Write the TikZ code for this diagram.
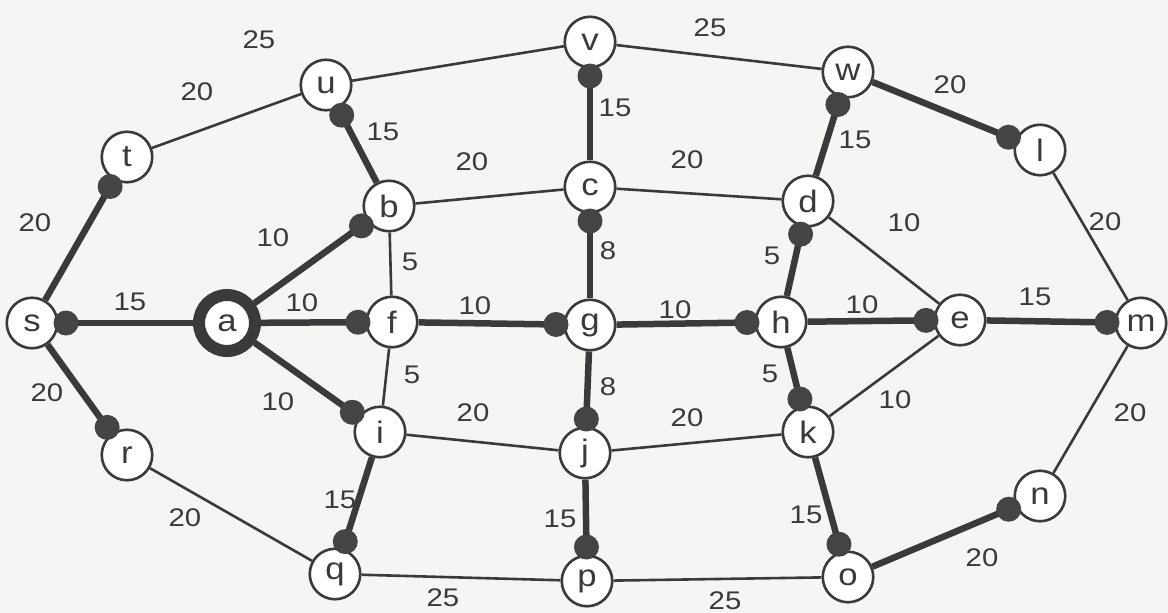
\documentclass[tikz,border=0pt]{standalone}
\usepackage{fontspec}
\setmainfont{Liberation Sans}
\newfontfamily\wfont[FakeStretch=1.15]{Liberation Sans}
\newfontfamily\vfont[FakeStretch=1.12]{Liberation Sans}
\usetikzlibrary{calc}
\definecolor{ink}{RGB}{58,58,58}
\definecolor{dotc}{RGB}{68,68,68}
\definecolor{paper}{RGB}{245,245,243}
\begin{document}
\begin{tikzpicture}[x=1pt,y=-1pt,
  vtx/.style={circle, draw=ink, line width=2.6pt, fill=white, minimum size=50.5pt, inner sep=0pt, text=ink, font=\vfont\fontsize{31}{31}\selectfont},
  rootvtx/.style={vtx, line width=12pt, minimum size=56pt},
  lbl/.style={font=\wfont\fontsize{25.5}{25.5}\selectfont, text=ink, inner sep=0pt},
  thinedge/.style={draw=ink, line width=2.6pt},
  treeedge/.style={draw=ink, line width=6.5pt},
  tipdot/.style={fill=dotc},
]
\useasboundingbox (0,0) rectangle (1168,613);
\fill[paper] (0,0) rectangle (1168,613);

% vertices
\node[vtx] (s) at (32,323) {s};
\node[rootvtx] (a) at (227,323) {a};
\node[vtx] (f) at (392,322) {f};
\node[vtx] (g) at (590,325) {g};
\node[vtx] (h) at (781,322) {h};
\node[vtx] (e) at (960,320) {e};
\node[vtx] (m) at (1141,323) {m};
\node[vtx] (t) at (127,157) {t};
\node[vtx] (u) at (326,85) {u};
\node[vtx] (v) at (590,42) {v};
\node[vtx] (w) at (848,72) {w};
\node[vtx] (l) at (1040,150) {l};
\node[vtx] (b) at (389,206) {b};
\node[vtx] (c) at (590,187) {c};
\node[vtx] (d) at (808,201) {d};
\node[vtx] (i) at (380,432) {i};
\node[vtx] (j) at (585,453) {j};
\node[vtx] (k) at (808,432) {k};
\node[vtx] (r) at (127,455) {r};
\node[vtx] (q) at (335,574) {q};
\node[vtx] (p) at (587,581) {p};
\node[vtx] (o) at (848,577) {o};
\node[vtx] (n) at (1040,496) {n};

% thin (non-tree) edges
\foreach \x/\y in {t/u, u/v, v/w, b/c, c/d, b/f, f/i, d/e, e/k, l/m, m/n, i/j, j/k, r/q, q/p, p/o}
  \draw[thinedge] (\x) -- (\y);

% tree edges (parent/child)
\foreach \x/\y in {a/s, s/t, s/r, a/b, a/f, a/i, b/u, f/g, c/v, g/c, g/h, g/j, h/d, h/e, h/k, d/w, w/l, e/m, i/q, j/p, k/o, o/n}
  \draw[treeedge] (\x) -- (\y);

% dots at the child end of tree edges
\foreach \x/\y in {a/s, s/t, s/r, a/b, a/f, a/i, b/u, f/g, c/v, g/c, g/h, g/j, h/d, h/e, h/k, d/w, w/l, e/m, i/q, j/p, k/o, o/n}
  \fill[tipdot] ($(\y)!34pt!(\x)$) circle (12.5pt);

% edge weights
\node[lbl] (w-sa) at (130,302) {15};
\node[lbl] (w-af) at (302,303) {10};
\node[lbl] (w-st) at (35,223) {20};
\node[lbl] (w-sr) at (47,393) {20};
\node[lbl] (w-ab) at (273,238) {10};
\node[lbl] (w-ai) at (278,402) {10};
\node[lbl] (w-rq) at (185,518) {20};
\node[lbl] (w-tu) at (197,92) {20};
\node[lbl] (w-ub) at (383,132) {15};
\node[lbl] (w-bc) at (472,162) {20};
\node[lbl] (w-uv) at (259,40) {25};
\node[lbl] (w-vc) at (615,108) {15};
\node[lbl] (w-vw) at (710,28) {25};
\node[lbl] (w-cd) at (687,160) {20};
\node[lbl] (w-wd) at (855,140) {15};
\node[lbl] (w-wl) at (950,85) {20};
\node[lbl] (w-de) at (904,223) {10};
\node[lbl] (w-lm) at (1105,222) {20};
\node[lbl] (w-dh) at (772,256) {5};
\node[lbl] (w-he) at (862,305) {10};
\node[lbl] (w-em) at (1035,297) {15};
\node[lbl] (w-hk) at (770,374) {5};
\node[lbl] (w-ek) at (895,400) {10};
\node[lbl] (w-mn) at (1130,413) {20};
\node[lbl] (w-bf) at (410,262) {5};
\node[lbl] (w-fg) at (475,306) {10};
\node[lbl] (w-cg) at (608,251) {8};
\node[lbl] (w-fi) at (412,375) {5};
\node[lbl] (w-gj) at (608,387) {8};
\node[lbl] (w-ij) at (473,413) {20};
\node[lbl] (w-gh) at (675,310) {10};
\node[lbl] (w-jk) at (687,418) {20};
\node[lbl] (w-iq) at (340,500) {15};
\node[lbl] (w-jp) at (560,519) {15};
\node[lbl] (w-ko) at (806,515) {15};
\node[lbl] (w-on) at (982,558) {20};
\node[lbl] (w-qp) at (443,598) {25};
\node[lbl] (w-po) at (725,601) {25};
\end{tikzpicture}
\end{document}
